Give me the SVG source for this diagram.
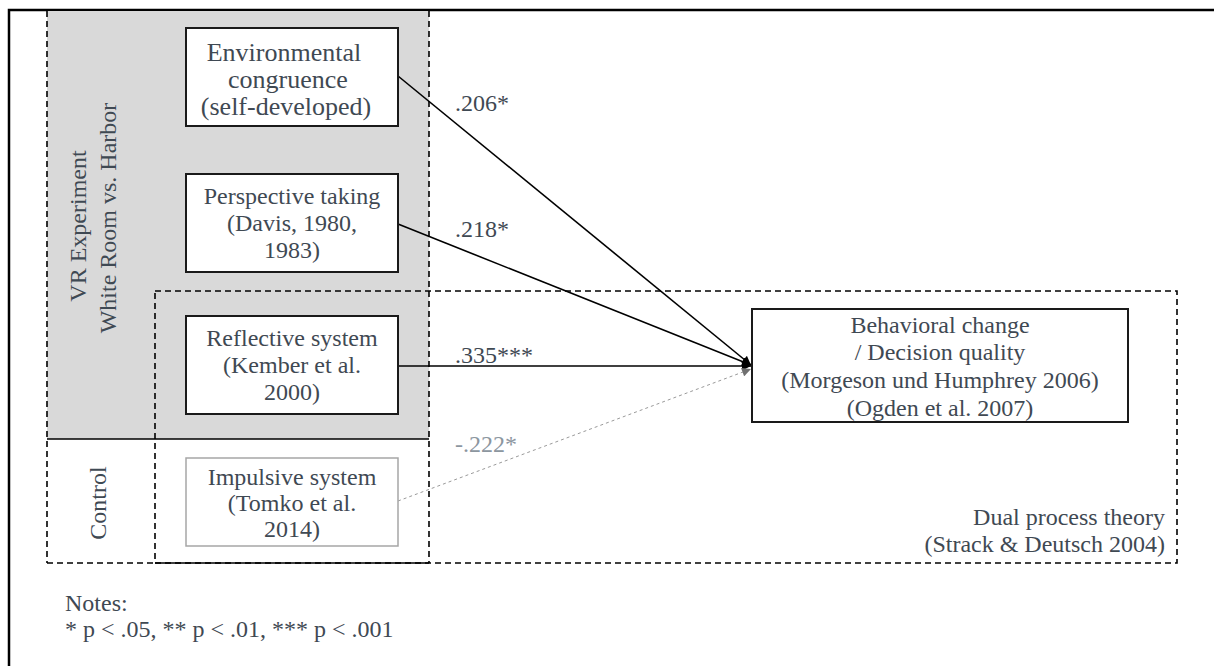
<svg xmlns="http://www.w3.org/2000/svg" width="1214" height="666" viewBox="0 0 1214 666">
  <style>
    .t { font-family: "Liberation Serif", "Times New Roman", serif; font-size: 24px; fill: #3f4953; }
    .big { font-size: 26px; }
    .c { text-anchor: middle; }
    .r { text-anchor: end; }
    .lbl-muted { fill: #8c969f; }
    .node { fill: #ffffff; stroke: #1a1a1a; stroke-width: 2; }
    .node-muted { fill: #ffffff; stroke: #a6a6a6; stroke-width: 1.5; }
    .dash { fill: none; stroke: #000; stroke-width: 1.6; stroke-dasharray: 6 4; }
    .edge { fill: none; stroke: #000; stroke-width: 1.6; }
    .edge-muted { fill: none; stroke: #9a9a9a; stroke-width: 1; stroke-dasharray: 3 3; }
  </style>
  <defs>
    <marker id="arrow" viewBox="0 0 10 10" refX="10" refY="5" markerWidth="10" markerHeight="9" markerUnits="userSpaceOnUse" orient="auto">
      <path d="M0,0 L10,5 L0,10 z" fill="#000"/>
    </marker>
    <marker id="arrow-muted" viewBox="0 0 10 10" refX="10" refY="5" markerWidth="10" markerHeight="9" markerUnits="userSpaceOnUse" orient="auto">
      <path d="M0,0 L10,5 L0,10 z" fill="#707070"/>
    </marker>
  </defs>

  <rect width="1214" height="666" fill="#ffffff"/>

  <!-- outer frame (left and top rules) -->
  <path d="M9,666 V10 H1214" fill="none" stroke="#000" stroke-width="2.5"/>

  <!-- group regions -->
  <g id="regions">
    <rect x="47" y="11" width="382" height="428" fill="#d9d9d9"/>
    <line x1="47" y1="11" x2="47" y2="563" class="dash"/>
    <line x1="429" y1="11" x2="429" y2="563" class="dash"/>
    <line x1="47" y1="439" x2="429" y2="439" stroke="#000" stroke-width="1.6"/>
    <line x1="47" y1="563" x2="155" y2="563" class="dash"/>
    <rect x="155" y="291" width="1022" height="272" class="dash"/>
    <line x1="155" y1="563" x2="429" y2="563" stroke="#000" stroke-width="1.6"/>
  </g>

  <g id="region-labels">
    <text class="t c" transform="translate(86,226) rotate(-90)">VR Experiment</text>
    <text class="t c" transform="translate(116,218) rotate(-90)">White Room vs. Harbor</text>
    <text class="t c" transform="translate(106,503) rotate(-90)">Control</text>
    <text class="t r" x="1165" y="525">Dual process theory</text>
    <text class="t r" x="1165" y="552">(Strack &amp; Deutsch 2004)</text>
  </g>

  <!-- connectors -->
  <g id="connectors">
    <line x1="398" y1="76" x2="751" y2="365" class="edge" marker-end="url(#arrow)"/>
    <line x1="398" y1="224" x2="751" y2="365" class="edge" marker-end="url(#arrow)"/>
    <line x1="398" y1="366" x2="751" y2="366" class="edge" marker-end="url(#arrow)"/>
    <line x1="398" y1="501" x2="751" y2="369" class="edge-muted" marker-end="url(#arrow-muted)"/>
    <text class="t" x="455" y="111">.206*</text>
    <text class="t" x="455" y="237">.218*</text>
    <text class="t" x="455" y="363">.335***</text>
    <text class="t lbl-muted" x="455" y="452">-.222*</text>
  </g>

  <g id="env-congruence">
    <rect x="186" y="28" width="212" height="98" class="node"/>
    <text class="t big c" x="284" y="61">Environmental</text>
    <text class="t big c" x="288" y="88">congruence</text>
    <text class="t big c" x="286" y="115">(self-developed)</text>
  </g>

  <g id="perspective-taking">
    <rect x="186" y="174" width="212" height="98" class="node"/>
    <text class="t c" x="292" y="204">Perspective taking</text>
    <text class="t c" x="292" y="231">(Davis, 1980,</text>
    <text class="t c" x="292" y="258">1983)</text>
  </g>

  <g id="reflective-system">
    <rect x="186" y="316" width="212" height="98" class="node"/>
    <text class="t c" x="292" y="346">Reflective system</text>
    <text class="t c" x="292" y="373">(Kember et al.</text>
    <text class="t c" x="292" y="400">2000)</text>
  </g>

  <g id="impulsive-system">
    <rect x="186" y="458" width="212" height="88" class="node-muted"/>
    <text class="t c" x="292" y="485">Impulsive system</text>
    <text class="t c" x="292" y="511">(Tomko et al.</text>
    <text class="t c" x="292" y="537">2014)</text>
  </g>

  <g id="behavioral-change">
    <rect x="752" y="309" width="376" height="113" class="node"/>
    <text class="t c" x="940" y="333">Behavioral change</text>
    <text class="t c" x="940" y="360">/ Decision quality</text>
    <text class="t c" x="940" y="388">(Morgeson und Humphrey 2006)</text>
    <text class="t c" x="940" y="416">(Ogden et al. 2007)</text>
  </g>

  <g id="notes">
    <text class="t" x="65" y="611">Notes:</text>
    <text class="t" x="65" y="637">* p &lt; .05, ** p &lt; .01, *** p &lt; .001</text>
  </g>
</svg>
